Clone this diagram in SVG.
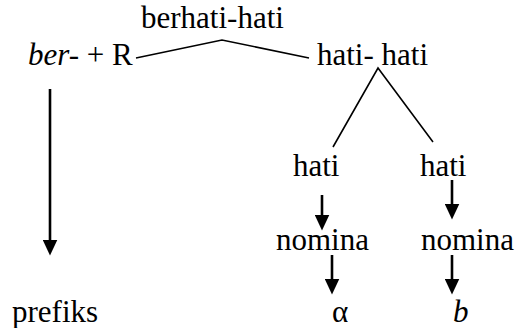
<svg xmlns="http://www.w3.org/2000/svg" width="518" height="328" viewBox="0 0 518 328">
  <style>
    text { font-family: "Liberation Serif", "Times New Roman", Times, "DejaVu Serif", serif; font-size: 31px; fill: #000; }
    .i { font-style: italic; }
    .branch { fill: none; stroke: #000; stroke-width: 1.6; }
    .arrow { fill: none; stroke: #000; stroke-width: 2.6; marker-end: url(#head); }
  </style>
  <defs>
    <!-- downward filled arrowhead; its base sits on the end of the shaft -->
    <marker id="head" markerUnits="userSpaceOnUse" markerWidth="15" markerHeight="16" viewBox="0 0 15 16" refX="7.5" refY="0.5" orient="0">
      <path d="M0,0 L15,0 L7.5,16 Z" fill="#000"/>
    </marker>
  </defs>

  <rect width="518" height="328" fill="#fff"/>

  <!-- word nodes -->
  <g id="n-berhati-hati"><text x="141" y="28">berhati-hati</text></g>
  <g id="n-ber-R"><text x="28" y="65"><tspan class="i">ber-</tspan> + R</text></g>
  <g id="n-hati-hati"><text x="317" y="65">hati- hati</text></g>
  <g id="n-hati-left"><text x="293" y="176">hati</text></g>
  <g id="n-hati-right"><text x="420" y="176">hati</text></g>
  <g id="n-nomina-left"><text x="276" y="250">nomina</text></g>
  <g id="n-nomina-right"><text x="421" y="250">nomina</text></g>
  <g id="n-prefiks"><text x="12" y="322">prefiks</text></g>
  <g id="n-alpha"><text x="332" y="322">α</text></g>
  <g id="n-b"><text class="i" x="453" y="322">b</text></g>

  <!-- connectors -->
  <g id="connectors">
    <polyline class="branch" points="136,58 222,40 309,58"/>
    <polyline class="branch" points="333,147 378,68 433,142"/>
    <path class="arrow" d="M50,89 V240"/>
    <path class="arrow" d="M322,195 V215"/>
    <path class="arrow" d="M452,180 V204"/>
    <path class="arrow" d="M332,255 V279"/>
    <path class="arrow" d="M452,255 V279"/>
  </g>
</svg>
